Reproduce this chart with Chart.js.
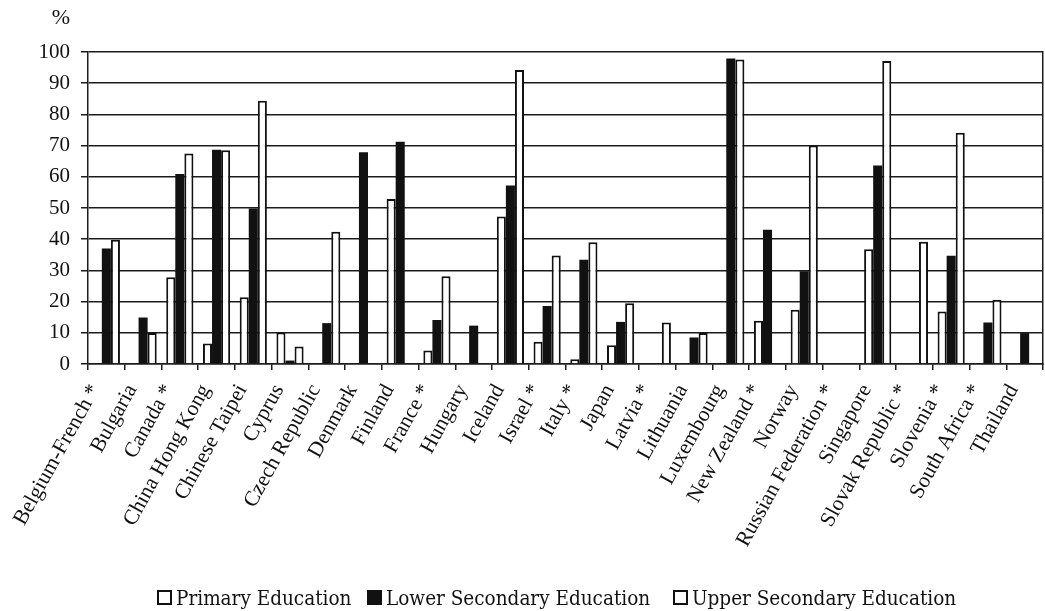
<!DOCTYPE html>
<html><head><meta charset="utf-8">
<script src="https://cdn.jsdelivr.net/npm/chart.js@4.4.0/dist/chart.umd.min.js"></script>
<style>
html,body{margin:0;padding:0;background:#fff;}
#wrap{position:relative;width:1045px;height:611px;overflow:hidden;}
canvas{position:absolute;left:0;top:0;}
.lg{position:absolute;top:588px;font-family:"DejaVu Serif Condensed","DejaVu Serif",serif;font-stretch:condensed;font-size:20.5px;color:#111;line-height:20px;white-space:nowrap;letter-spacing:0px;}
.bx{position:absolute;top:590px;width:15px;height:15px;box-sizing:border-box;border:2px solid #111;background:#fff;}
</style></head>
<body><div id="wrap"><canvas id="c" width="1045" height="611"></canvas><div id="legend"></div></div>
<script>
const categories = ["Belgium-French *","Bulgaria","Canada *","China Hong Kong","Chinese Taipei","Cyprus","Czech Republic","Denmark","Finland","France *","Hungary","Iceland","Israel *","Italy *","Japan","Latvia *","Lithuania","Luxembourg","New Zealand *","Norway","Russian Federation *","Singapore","Slovak Republic *","Slovenia *","South Africa *","Thailand"];
const seriesNames = ["Primary Education","Lower Secondary Education","Upper Secondary Education"];
const primaryEducation = [null,null,27.8,6.6,21.4,10.1,null,null,52.9,4.3,null,47.3,7.1,1.5,6.0,null,null,null,13.9,17.4,null,36.8,null,16.8,null,null];
const lowerSecondary   = [37.0,14.9,60.9,68.7,49.8,1.1,13.1,67.9,71.2,14.1,12.3,57.2,18.6,33.4,13.5,null,8.5,97.9,43.0,29.7,null,63.6,null,34.7,13.3,9.9];
const upperSecondary   = [39.8,9.9,67.5,68.5,84.4,5.6,42.4,null,null,28.1,null,94.2,34.8,39.0,19.5,13.3,9.9,97.6,null,70.0,null,97.1,39.2,74.1,20.6,null];
const yMin = 0, yMax = 100, yStep = 10;
const yUnit = "%";

const ink = '#111';
const gridInk = '#1c1c1c';

const unitPlugin = {
  id: 'unitLabel',
  afterDraw(chart) {
    const c = chart.ctx;
    c.save();
    c.font = '22px "Liberation Serif"';
    c.fillStyle = ink;
    c.textAlign = 'right';
    c.textBaseline = 'middle';
    c.fillText(yUnit, chart.chartArea.left - 18, 18);
    c.restore();
  }
};

new Chart(document.getElementById('c'), {
  type: 'bar',
  data: {
    labels: categories,
    datasets: [
      {label: seriesNames[0], data: primaryEducation, backgroundColor: '#fff', borderColor: ink, borderWidth: 2},
      {label: seriesNames[1], data: lowerSecondary, backgroundColor: ink, borderColor: ink, borderWidth: 0},
      {label: seriesNames[2], data: upperSecondary, backgroundColor: '#fff', borderColor: ink, borderWidth: 2}
    ]
  },
  options: {
    responsive: false, animation: false, devicePixelRatio: 1,
    layout: {padding: {left: 0, right: 2, top: 52, bottom: 0}},
    plugins: {legend: {display: false}, tooltip: {enabled: false}},
    datasets: {bar: {categoryPercentage: 0.74, barPercentage: 1.0}},
    scales: {
      x: {
        grid: {offset: true, drawOnChartArea: false, drawTicks: true, tickLength: 6, color: gridInk, lineWidth: 1.5},
        border: {display: true, color: gridInk, width: 1.5},
        ticks: {minRotation: 61, maxRotation: 61, autoSkip: false, color: ink, font: {family: '"Liberation Serif"', size: 21.5}, padding: 10, labelOffset: -11},
        afterFit(s) { s.height = 611 - 364; s.paddingLeft = 0; s.paddingRight = 0; }
      },
      y: {
        min: yMin, max: yMax,
        ticks: {stepSize: yStep, color: ink, font: {family: '"Liberation Serif"', size: 21}, padding: 11},
        grid: {color: gridInk, lineWidth: 1.5, tickLength: 7},
        border: {color: gridInk, width: 1.5},
        afterFit(s) { s.width = 88; }
      },
      y2: {
        position: 'right', display: true, min: yMin, max: yMax,
        grid: {display: false, drawTicks: false},
        ticks: {display: false},
        border: {display: true, color: gridInk, width: 1.5},
        afterFit(s) { s.width = 0; }
      }
    }
  },
  plugins: [unitPlugin]
});

// legend (HTML text)
const legendPos = [157, 367, 673];
const legendFill = ['#fff', ink, '#fff'];
const lg = document.getElementById('legend');
seriesNames.forEach((name, i) => {
  const b = document.createElement('div');
  b.className = 'bx'; b.style.left = legendPos[i] + 'px'; b.style.background = legendFill[i];
  lg.appendChild(b);
  const t = document.createElement('div');
  t.className = 'lg'; t.style.left = (legendPos[i] + 19) + 'px'; t.textContent = name;
  lg.appendChild(t);
});
</script>
</body></html>
